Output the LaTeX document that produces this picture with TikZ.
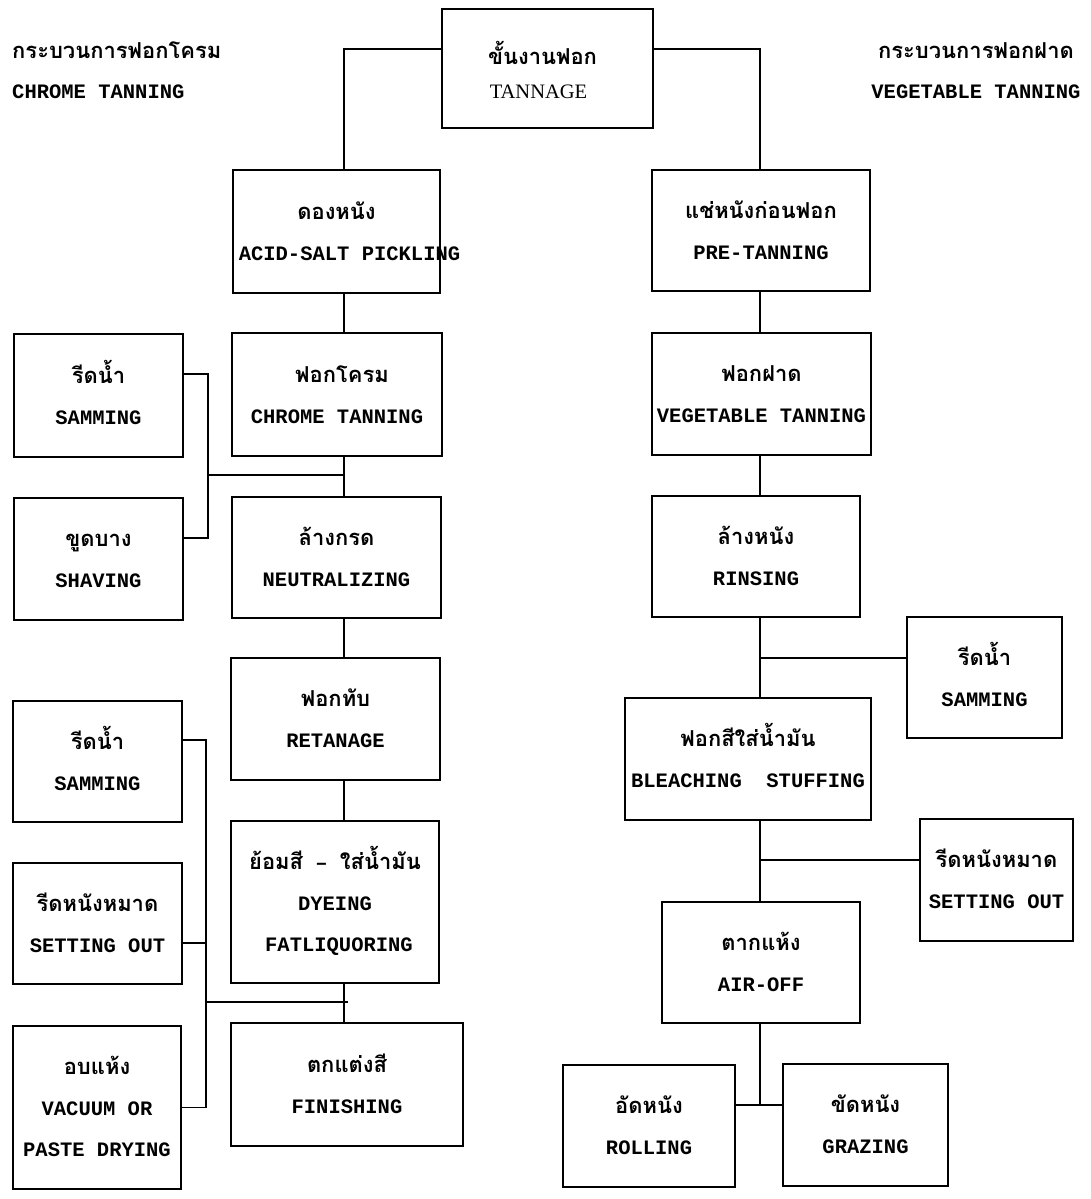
\documentclass[tikz,border=0pt]{standalone}
\usepackage{fontspec}
\setmainfont{Liberation Mono}
\newfontfamily\thaif[Script=Thai,Scale=1.07]{Loma}
\newfontfamily\serf{Liberation Serif}
\usetikzlibrary{calc}
\newcommand\tS{\rule{0pt}{23pt}}
\newcommand\bS{\rule[-7pt]{0pt}{7pt}}
\newcommand\Ln[1]{\makebox[0pt]{#1}}
\newcommand\bx[6]{\node[box, minimum width={(#4-#2)*1pt}, minimum height={(#5-#3)*1pt}] (#1) at ({(#2+#4)/2},{(#3+#5)/2}) {#6};}
\begin{document}
\begin{tikzpicture}[x=1pt,y=-1pt,
  box/.style={draw, line width=1.9pt, inner sep=0pt, outer sep=0pt, align=center, font=\fontsize{20.5}{41}\selectfont\bfseries},
  conn/.style={line width=1.9pt},
  hdr/.style={inner sep=0pt, font=\fontsize{20.5}{40}\selectfont\bfseries}]
\fill[white] (0,0) rectangle (1091,1199);
\useasboundingbox (0,0) rectangle (1091,1199);

% headers
\node[hdr, anchor=west, align=left] (hl) at (12,70.5) {\tS{\thaif กระบวนการฟอกโครม}\\CHROME TANNING\bS};
\node[hdr, align=center] (hr) at (976,70.5) {\tS{\thaif กระบวนการฟอกฝาด}\\VEGETABLE TANNING\bS};

% top
\bx{tan}{442}{9}{653}{128}{\Ln{\rule{0pt}{31pt}\thaif ขั้นงานฟอก\hspace*{10pt}}\\[-8pt]\Ln{\serf\mdseries TANNAGE\rule[-5pt]{0pt}{5pt}\hspace*{18pt}}}

% left main column
\bx{acid}{233}{170}{440}{293}{\Ln{\tS\thaif ดองหนัง}\\\Ln{\hspace*{26pt}ACID-SALT PICKLING\bS}}
\bx{chrome}{232}{333}{442}{456}{\Ln{\tS\hspace*{10pt}\thaif ฟอกโครม}\\\Ln{CHROME TANNING\bS}}
\bx{neutral}{232}{497}{441}{618}{\Ln{\tS\thaif ล้างกรด}\\\Ln{NEUTRALIZING\bS}}
\bx{retan}{231}{658}{440}{780}{\Ln{\tS\thaif ฟอกทับ}\\\Ln{RETANAGE\bS}}
\bx{dye}{231}{821}{439}{983}{\Ln{\tS{\thaif ย้อมสี} \textendash{} {\thaif ใส่น้ำมัน}}\\\Ln{DYEING}\\\Ln{\hspace*{8pt}FATLIQUORING\bS}}
\bx{fin}{231}{1023}{463}{1146}{\Ln{\tS\thaif ตกแต่งสี}\\\Ln{FINISHING\bS}}

% left side boxes
\bx{samm1}{14}{334}{183}{457}{\Ln{\tS\thaif รีดน้ำ}\\\Ln{SAMMING\bS}}
\bx{shav}{14}{498}{183}{620}{\Ln{\tS\thaif ขูดบาง}\\\Ln{SHAVING\bS}}
\bx{samm2}{13}{701}{182}{822}{\Ln{\tS\thaif รีดน้ำ}\\\Ln{SAMMING\bS}}
\bx{set1}{13}{863}{182}{984}{\Ln{\tS\thaif รีดหนังหมาด}\\\Ln{SETTING OUT\bS}}
\bx{vac}{13}{1026}{181}{1189}{\Ln{\tS\thaif อบแห้ง}\\\Ln{VACUUM OR}\\\Ln{PASTE DRYING\bS}}

% right main column
\bx{pre}{652}{170}{870}{291}{\Ln{\tS\thaif แช่หนังก่อนฟอก}\\\Ln{PRE-TANNING\bS}}
\bx{veg}{652}{333}{871}{455}{\Ln{\tS\thaif ฟอกฝาด}\\\Ln{VEGETABLE TANNING\bS}}
\bx{rins}{652}{496}{860}{617}{\Ln{\tS\thaif ล้างหนัง}\\\Ln{RINSING\bS}}
\bx{bleach}{625}{698}{871}{820}{\Ln{\tS\thaif ฟอกสีใส่น้ำมัน}\\\Ln{BLEACHING\ \ STUFFING\bS}}
\bx{air}{662}{902}{860}{1023}{\Ln{\tS\thaif ตากแห้ง}\\\Ln{AIR-OFF\bS}}

% right side boxes
\bx{samm3}{907}{617}{1062}{738}{\Ln{\tS\thaif รีดน้ำ}\\\Ln{SAMMING\bS}}
\bx{set2}{920}{819}{1073}{941}{\Ln{\tS\thaif รีดหนังหมาด}\\\Ln{SETTING OUT\bS}}
\bx{roll}{563}{1065}{735}{1187}{\Ln{\tS\thaif อัดหนัง}\\\Ln{ROLLING\bS}}
\bx{graz}{783}{1064}{948}{1186}{\Ln{\tS\thaif ขัดหนัง}\\\Ln{GRAZING\bS}}

% spines and junctions
\coordinate (Lsp) at (344,0);
\coordinate (Rsp) at (760,0);
\coordinate (Lb1) at (208,0);
\coordinate (Lb2) at (206,0);
\coordinate (j1) at (344,475);
\coordinate (j2) at (348,1002);

% connectors
\draw[conn] ([yshift=19.5pt]tan.west) -| (acid.north -| Lsp);
\draw[conn] ([yshift=19.5pt]tan.east) -| (pre.north -| Rsp);
\draw[conn] (acid.south -| Lsp) -- (chrome.north -| Lsp);
\draw[conn] (chrome.south -| Lsp) -- (neutral.north -| Lsp);
\draw[conn] (neutral.south -| Lsp) -- (retan.north -| Lsp);
\draw[conn] (retan.south -| Lsp) -- (dye.north -| Lsp);
\draw[conn] (dye.south -| Lsp) -- (fin.north -| Lsp);
\draw[conn] (pre.south -| Rsp) -- (veg.north -| Rsp);
\draw[conn] (veg.south -| Rsp) -- (rins.north -| Rsp);
\draw[conn] (rins.south -| Rsp) -- (bleach.north -| Rsp);
\draw[conn] (bleach.south -| Rsp) -- (air.north -| Rsp);
\draw[conn] (air.south -| Rsp) -- ([yshift=21pt]roll.east -| Rsp);
\draw[conn] ([yshift=21pt]roll.east) -- ([yshift=21pt]roll.east -| graz.west);
\draw[conn] ([yshift=19.5pt]samm3.west) -- ([yshift=19.5pt]samm3.west -| Rsp);
\draw[conn] ([yshift=20pt]set2.west) -- ([yshift=20pt]set2.west -| Rsp);
\draw[conn] ([yshift=21.5pt]samm1.east) -| ([yshift=21pt]shav.east -| Lb1) -- ([yshift=21pt]shav.east);
\draw[conn] (j1 -| Lb1) -- (j1);
\draw[conn] ([yshift=21.5pt]samm2.east) -| (vac.east -| Lb2) -- (vac.east);
\draw[conn] ([yshift=-19.5pt]set1.east) -- ([yshift=-19.5pt]set1.east -| Lb2);
\draw[conn] (j2 -| Lb2) -- (j2);
\end{tikzpicture}
\end{document}
